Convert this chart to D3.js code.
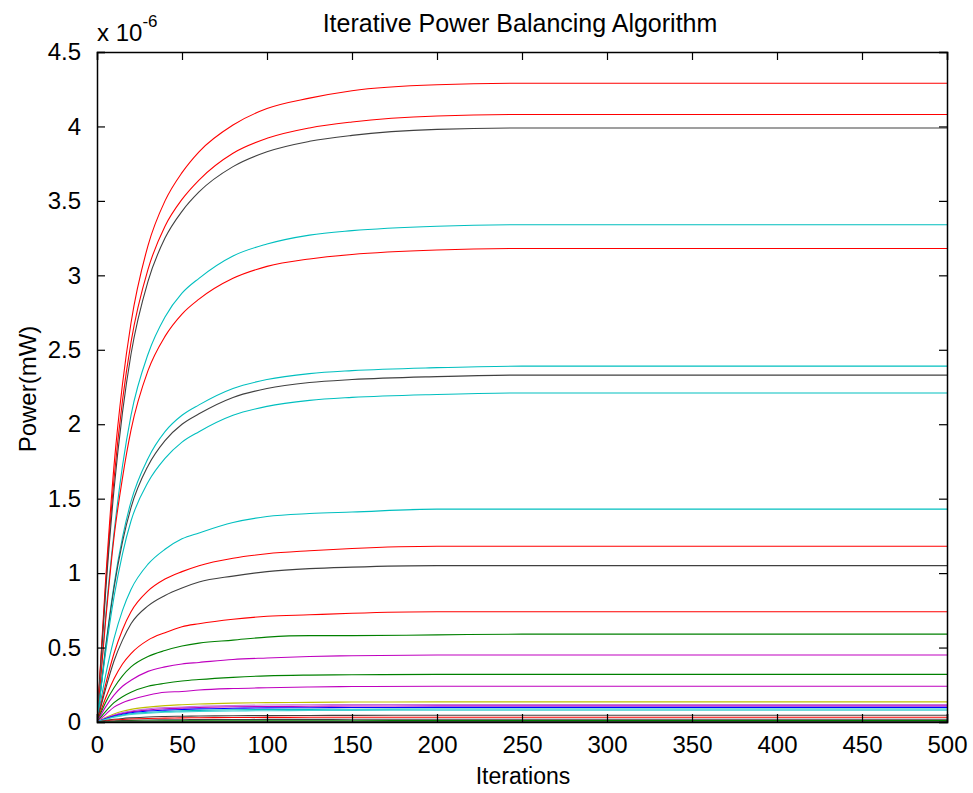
<!DOCTYPE html>
<html>
<head>
<meta charset="utf-8">
<script src="https://cdn.jsdelivr.net/npm/d3@7"></script>
<style>
  body { margin: 0; background: #fff; }
  text { font-family: "Liberation Sans", Arial, Helvetica, sans-serif; fill: #000; }
</style>
</head>
<body>
<div id="chart"></div>
<script>
var width = 973,
    height = 793;

var iterations = [0, 5, 10, 15, 20, 30, 40, 50, 60, 80, 100, 125, 150, 200, 250, 500];

// power per link, in units of 1e-6 mW
var p01 = [0, 0.94, 1.72, 2.27, 2.68, 3.20, 3.50, 3.69, 3.83, 4.01, 4.12, 4.19, 4.24, 4.28, 4.29, 4.29];
var p02 = [0, 0.90, 1.63, 2.16, 2.55, 3.04, 3.33, 3.51, 3.64, 3.82, 3.92, 3.99, 4.03, 4.07, 4.08, 4.08];
var p03 = [0, 0.86, 1.56, 2.08, 2.47, 2.96, 3.25, 3.43, 3.56, 3.73, 3.83, 3.90, 3.94, 3.98, 3.99, 3.99];
var p04 = [0, 0.70, 1.27, 1.72, 2.06, 2.47, 2.72, 2.88, 2.98, 3.13, 3.21, 3.27, 3.30, 3.33, 3.34, 3.34];
var p05 = [0, 0.67, 1.24, 1.64, 1.96, 2.36, 2.59, 2.74, 2.84, 2.98, 3.06, 3.11, 3.14, 3.17, 3.18, 3.18];
var p06 = [0, 0.50, 0.92, 1.24, 1.48, 1.77, 1.95, 2.06, 2.13, 2.24, 2.30, 2.34, 2.36, 2.38, 2.39, 2.39];
var p07 = [0, 0.49, 0.90, 1.21, 1.44, 1.72, 1.89, 2.00, 2.07, 2.18, 2.24, 2.28, 2.30, 2.32, 2.33, 2.33];
var p08 = [0, 0.46, 0.84, 1.13, 1.35, 1.61, 1.77, 1.88, 1.95, 2.06, 2.12, 2.16, 2.18, 2.20, 2.21, 2.21];
var p09 = [0, 0.31, 0.56, 0.75, 0.89, 1.06, 1.16, 1.23, 1.27, 1.34, 1.38, 1.40, 1.41, 1.43, 1.43, 1.43];
var p10 = [0, 0.25, 0.46, 0.62, 0.74, 0.88, 0.96, 1.01, 1.05, 1.10, 1.13, 1.15, 1.165, 1.18, 1.18, 1.18];
var p11 = [0, 0.22, 0.41, 0.55, 0.66, 0.78, 0.85, 0.90, 0.94, 0.98, 1.01, 1.03, 1.04, 1.05, 1.05, 1.05];
var p12 = [0, 0.16, 0.29, 0.39, 0.46, 0.55, 0.60, 0.64, 0.66, 0.69, 0.71, 0.72, 0.73, 0.74, 0.74, 0.74];
var p13 = [0, 0.13, 0.23, 0.31, 0.37, 0.44, 0.48, 0.51, 0.53, 0.55, 0.57, 0.58, 0.58, 0.585, 0.59, 0.59];
var p14 = [0, 0.10, 0.18, 0.24, 0.28, 0.34, 0.37, 0.39, 0.40, 0.42, 0.43, 0.44, 0.445, 0.45, 0.45, 0.45];
var p15 = [0, 0.07, 0.13, 0.17, 0.20, 0.24, 0.26, 0.275, 0.285, 0.30, 0.31, 0.315, 0.317, 0.32, 0.32, 0.32];
var p16 = [0, 0.05, 0.10, 0.13, 0.15, 0.18, 0.20, 0.205, 0.215, 0.225, 0.23, 0.235, 0.238, 0.24, 0.24, 0.24];
var p17 = [0, 0.03, 0.054, 0.072, 0.085, 0.10, 0.11, 0.116, 0.121, 0.127, 0.13, 0.132, 0.134, 0.135, 0.135, 0.135];
var p18 = [0, 0.026, 0.047, 0.063, 0.074, 0.089, 0.097, 0.101, 0.106, 0.111, 0.114, 0.116, 0.117, 0.118, 0.118, 0.118];
var p19 = [0, 0.024, 0.043, 0.057, 0.068, 0.081, 0.089, 0.093, 0.097, 0.102, 0.104, 0.106, 0.107, 0.108, 0.108, 0.108];
var p20 = [0, 0.022, 0.039, 0.052, 0.062, 0.074, 0.080, 0.084, 0.088, 0.092, 0.095, 0.096, 0.097, 0.098, 0.098, 0.098];
var p21 = [0, 0.019, 0.035, 0.046, 0.055, 0.065, 0.071, 0.075, 0.078, 0.082, 0.084, 0.085, 0.086, 0.087, 0.087, 0.087];
var p22 = [0, 0.017, 0.032, 0.042, 0.050, 0.059, 0.065, 0.068, 0.071, 0.074, 0.076, 0.077, 0.078, 0.079, 0.079, 0.079];
var p23 = [0, 0.010, 0.018, 0.024, 0.028, 0.034, 0.037, 0.039, 0.040, 0.042, 0.043, 0.044, 0.0445, 0.045, 0.045, 0.045];
var p24 = [0, 0.007, 0.013, 0.017, 0.020, 0.024, 0.026, 0.0275, 0.0285, 0.030, 0.031, 0.0315, 0.032, 0.032, 0.032, 0.032];
var p25 = [0, 0.004, 0.007, 0.0095, 0.011, 0.0135, 0.015, 0.0155, 0.016, 0.017, 0.0174, 0.0177, 0.018, 0.018, 0.018, 0.018];
var p26 = [0, 0.002, 0.0036, 0.0048, 0.0057, 0.0068, 0.0074, 0.0077, 0.008, 0.0085, 0.0087, 0.0088, 0.0089, 0.009, 0.009, 0.009];
var p27 = [0, 0.001, 0.0015, 0.002, 0.0023, 0.0026, 0.0028, 0.0029, 0.003, 0.003, 0.003, 0.003, 0.003, 0.003, 0.003, 0.003];

var series = [p01, p02, p03, p04, p05, p06, p07, p08, p09, p10, p11, p12, p13, p14,
              p15, p16, p17, p18, p19, p20, p21, p22, p23, p24, p25, p26, p27];

// matlab style line colours, one per series
var colors = ['#ff0000', '#ff0000', '#404040', '#00bfbf', '#ff0000', '#00bfbf', '#404040',
              '#00bfbf', '#00bfbf', '#ff0000', '#404040', '#ff0000', '#008000', '#bf00bf',
              '#008000', '#bf00bf', '#bfbf00', '#c070e0', '#bf00bf', '#0000ff', '#00bfbf',
              '#40d0d0', '#404040', '#ff0000', '#404040', '#008000', '#404040'];

var xTicks = [0, 50, 100, 150, 200, 250, 300, 350, 400, 450, 500];
var yTicks = [0, 0.5, 1, 1.5, 2, 2.5, 3, 3.5, 4, 4.5];

var plotLeft = 97, plotRight = 947, plotTop = 52, plotBottom = 722;

var svg = d3.select('#chart').append('svg')
    .attr('width', width)
    .attr('height', height);

var x = d3.scaleLinear().domain([0, 500]).range([plotLeft, plotRight]);
var y = d3.scaleLinear().domain([0, 4.5]).range([plotBottom, plotTop]);

svg.append('clipPath').attr('id', 'clip')
    .append('rect')
    .attr('x', plotLeft).attr('y', plotTop)
    .attr('width', plotRight - plotLeft).attr('height', plotBottom - plotTop);

var line = d3.line()
    .x(function(d, i) { return x(iterations[i]); })
    .y(function(d) { return y(d); })
    .curve(d3.curveMonotoneX);

svg.append('g')
    .attr('clip-path', 'url(#clip)')
    .selectAll('path')
    .data(series)
    .enter()
    .append('path')
    .attr('d', line)
    .style('fill', 'none')
    .style('stroke', function(d, i) { return colors[i]; })
    .style('stroke-width', 1.1);

// axes, ticks point inward like matlab
var fontSize = '24px';

var xAxis = svg.append('g')
    .attr('transform', 'translate(0,' + plotBottom + ')')
    .call(d3.axisBottom(x).tickValues(xTicks).tickSize(-8).tickPadding(14));
var xTop = svg.append('g')
    .attr('transform', 'translate(0,' + plotTop + ')')
    .call(d3.axisTop(x).tickValues(xTicks).tickSize(-8).tickFormat(''));
var yAxis = svg.append('g')
    .attr('transform', 'translate(' + plotLeft + ',0)')
    .call(d3.axisLeft(y).tickValues(yTicks).tickSize(-8).tickPadding(16)
        .tickFormat(d3.format('~g')));
var yRight = svg.append('g')
    .attr('transform', 'translate(' + plotRight + ',0)')
    .call(d3.axisRight(y).tickValues(yTicks).tickSize(-8).tickFormat(''));

[xAxis, xTop, yAxis, yRight].forEach(function(g) {
    g.select('.domain').attr('stroke', '#000').attr('stroke-width', 1.5);
    g.selectAll('.tick line').attr('stroke', '#000').attr('stroke-width', 1.2);
    g.selectAll('text')
        .style('font-size', fontSize)
        .style('font-family', '"Liberation Sans", Arial, sans-serif')
        .attr('fill', '#000');
});

// exponent label
var expo = svg.append('text')
    .attr('x', 97)
    .attr('y', 41)
    .style('font-size', fontSize);
expo.append('tspan').text('x 10');
expo.append('tspan')
    .attr('dy', -14)
    .style('font-size', '17px')
    .text('-6');

svg.append('text')
    .attr('x', 520)
    .attr('y', 32)
    .attr('text-anchor', 'middle')
    .style('font-size', '25px')
    .text('Iterative Power Balancing Algorithm');

svg.append('text')
    .attr('x', 523)
    .attr('y', 784)
    .attr('text-anchor', 'middle')
    .style('font-size', '23px')
    .text('Iterations');

svg.append('text')
    .attr('transform', 'translate(36,389) rotate(-90)')
    .attr('text-anchor', 'middle')
    .style('font-size', '24px')
    .text('Power(mW)');
</script>
</body>
</html>
